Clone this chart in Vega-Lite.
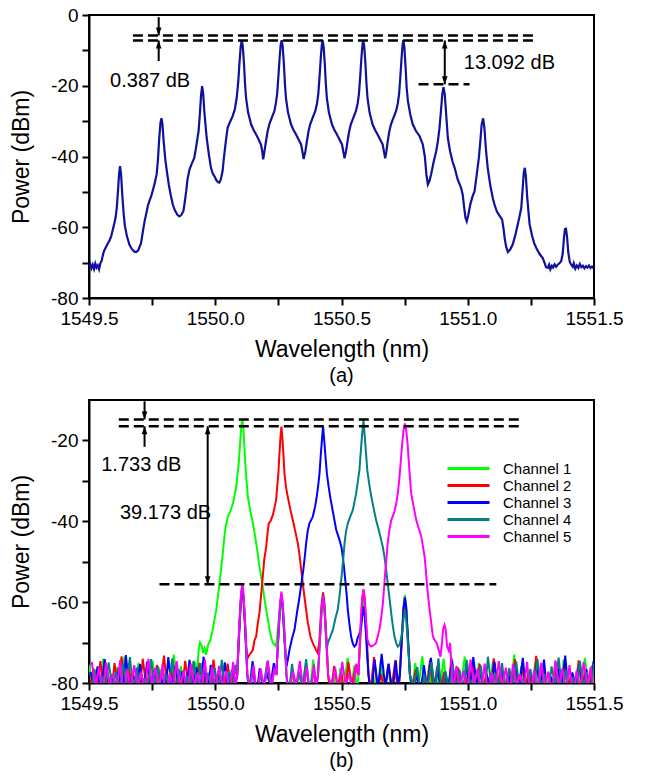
{
"$schema":"https://vega.github.io/schema/vega-lite/v6.json",
"background":"white",
"padding":{"left":9,"top":5,"right":5,"bottom":5},
"spacing":12,
"config":{
"font":"Liberation Sans",
"view":{"stroke":"black","strokeWidth":2},
"axis":{"domainColor":"black","domainWidth":2,"tickColor":"black","tickWidth":2,"tickSize":7,"labelFontSize":19,"labelColor":"black","titleFontSize":23,"titleFontWeight":"normal","titleColor":"black","grid":false,"labelPadding":4,"labelFlush":false,"labelOverlap":false},
"title":{"fontSize":20,"fontWeight":"normal","color":"black","orient":"bottom","anchor":"middle","offset":5}
},
"datasets":{
"specA":[
{"x":1549.500,"y":-71.0},{"x":1549.505,"y":-70.4},{"x":1549.510,"y":-71.6},{"x":1549.515,"y":-70.6},{"x":1549.520,"y":-71.8},{"x":1549.525,"y":-70.3},{"x":1549.530,"y":-71.4},{"x":1549.535,"y":-70.8},{"x":1549.540,"y":-71.9},{"x":1549.545,"y":-70.2},{"x":1549.550,"y":-69.5},{"x":1549.556,"y":-67.5},{"x":1549.561,"y":-66.5},{"x":1549.568,"y":-65.5},{"x":1549.575,"y":-64.5},{"x":1549.581,"y":-63.8},{"x":1549.588,"y":-62.5},{"x":1549.594,"y":-60.8},{"x":1549.600,"y":-59},{"x":1549.605,"y":-57.4},{"x":1549.610,"y":-54.5},{"x":1549.615,"y":-49.5},{"x":1549.619,"y":-45},{"x":1549.623,"y":-42.7},{"x":1549.627,"y":-45},{"x":1549.632,"y":-51},{"x":1549.637,"y":-56},{"x":1549.642,"y":-59.5},{"x":1549.650,"y":-62.5},{"x":1549.660,"y":-64.9},{"x":1549.670,"y":-66.2},{"x":1549.680,"y":-66.9},{"x":1549.687,"y":-67},{"x":1549.695,"y":-66.5},{"x":1549.706,"y":-64.5},{"x":1549.715,"y":-60.5},{"x":1549.721,"y":-58},{"x":1549.726,"y":-56.4},{"x":1549.733,"y":-54},{"x":1549.739,"y":-52.6},{"x":1549.746,"y":-51.3},{"x":1549.752,"y":-49.8},{"x":1549.760,"y":-47.6},{"x":1549.768,"y":-45},{"x":1549.773,"y":-41},{"x":1549.778,"y":-35},{"x":1549.783,"y":-30.5},{"x":1549.787,"y":-29.2},{"x":1549.791,"y":-31},{"x":1549.796,"y":-36},{"x":1549.803,"y":-41.3},{"x":1549.810,"y":-45},{"x":1549.816,"y":-47.9},{"x":1549.824,"y":-51},{"x":1549.832,"y":-53.6},{"x":1549.840,"y":-55.2},{"x":1549.850,"y":-56.5},{"x":1549.858,"y":-56.9},{"x":1549.866,"y":-56.5},{"x":1549.874,"y":-55.4},{"x":1549.880,"y":-52.5},{"x":1549.885,"y":-49.8},{"x":1549.890,"y":-46.5},{"x":1549.898,"y":-43.7},{"x":1549.907,"y":-42},{"x":1549.917,"y":-40.4},{"x":1549.925,"y":-37},{"x":1549.934,"y":-32.8},{"x":1549.939,"y":-28},{"x":1549.944,"y":-22.5},{"x":1549.948,"y":-20.1},{"x":1549.952,"y":-22},{"x":1549.957,"y":-27.5},{"x":1549.962,"y":-31.5},{"x":1549.966,"y":-34.7},{"x":1549.975,"y":-39.5},{"x":1549.983,"y":-43.2},{"x":1549.990,"y":-44.8},{"x":1549.997,"y":-45.6},{"x":1550.005,"y":-46.8},{"x":1550.012,"y":-47.3},{"x":1550.016,"y":-47.4},{"x":1550.022,"y":-46.5},{"x":1550.029,"y":-44.1},{"x":1550.034,"y":-40.5},{"x":1550.039,"y":-37.5},{"x":1550.044,"y":-34.5},{"x":1550.049,"y":-31.9},{"x":1550.058,"y":-30.3},{"x":1550.069,"y":-28.6},{"x":1550.078,"y":-26.5},{"x":1550.085,"y":-23.4},{"x":1550.091,"y":-19},{"x":1550.096,"y":-13.5},{"x":1550.101,"y":-8.8},{"x":1550.105,"y":-7.2},{"x":1550.109,"y":-8.8},{"x":1550.114,"y":-14},{"x":1550.118,"y":-19.5},{"x":1550.122,"y":-23.4},{"x":1550.130,"y":-27.5},{"x":1550.142,"y":-30.9},{"x":1550.152,"y":-32.5},{"x":1550.162,"y":-33.8},{"x":1550.172,"y":-35.2},{"x":1550.181,"y":-36.6},{"x":1550.186,"y":-38.5},{"x":1550.190,"y":-40.8},{"x":1550.195,"y":-38.5},{"x":1550.201,"y":-35.7},{"x":1550.207,"y":-33},{"x":1550.214,"y":-30.9},{"x":1550.224,"y":-29},{"x":1550.234,"y":-27.2},{"x":1550.240,"y":-25},{"x":1550.245,"y":-22.4},{"x":1550.250,"y":-17.5},{"x":1550.255,"y":-12},{"x":1550.259,"y":-8.5},{"x":1550.263,"y":-7.1},
{"x":1550.267,"y":-8.8},{"x":1550.272,"y":-14},{"x":1550.276,"y":-19.5},{"x":1550.280,"y":-23.4},{"x":1550.288,"y":-27.5},{"x":1550.300,"y":-30.9},{"x":1550.310,"y":-32.5},{"x":1550.320,"y":-33.8},{"x":1550.330,"y":-35.2},{"x":1550.340,"y":-36.6},{"x":1550.345,"y":-38.5},{"x":1550.350,"y":-40.7},{"x":1550.357,"y":-38.5},{"x":1550.363,"y":-35.7},{"x":1550.369,"y":-33},{"x":1550.376,"y":-30.9},{"x":1550.386,"y":-29},{"x":1550.396,"y":-27.2},{"x":1550.403,"y":-25},{"x":1550.408,"y":-22.4},{"x":1550.413,"y":-17.5},{"x":1550.418,"y":-12},{"x":1550.422,"y":-8.5},{"x":1550.425,"y":-7.1},
{"x":1550.429,"y":-8.8},{"x":1550.434,"y":-14},{"x":1550.438,"y":-19.5},{"x":1550.442,"y":-23.4},{"x":1550.450,"y":-27.5},{"x":1550.462,"y":-30.9},{"x":1550.472,"y":-32.5},{"x":1550.482,"y":-33.8},{"x":1550.492,"y":-35.2},{"x":1550.502,"y":-36.6},{"x":1550.507,"y":-38.5},{"x":1550.512,"y":-40.5},{"x":1550.518,"y":-38.5},{"x":1550.524,"y":-35.7},{"x":1550.530,"y":-33},{"x":1550.537,"y":-30.9},{"x":1550.547,"y":-29},{"x":1550.557,"y":-27.2},{"x":1550.564,"y":-25},{"x":1550.569,"y":-22.4},{"x":1550.574,"y":-17.5},{"x":1550.579,"y":-12},{"x":1550.583,"y":-8.5},{"x":1550.586,"y":-7.1},
{"x":1550.590,"y":-8.8},{"x":1550.595,"y":-14},{"x":1550.599,"y":-19.5},{"x":1550.603,"y":-23.4},{"x":1550.611,"y":-27.5},{"x":1550.623,"y":-30.9},{"x":1550.633,"y":-32.5},{"x":1550.643,"y":-33.8},{"x":1550.653,"y":-35.2},{"x":1550.663,"y":-36.6},{"x":1550.668,"y":-38.5},{"x":1550.673,"y":-40.5},{"x":1550.678,"y":-38.5},{"x":1550.683,"y":-35.7},{"x":1550.689,"y":-33},{"x":1550.696,"y":-30.9},{"x":1550.706,"y":-29},{"x":1550.716,"y":-27.2},{"x":1550.723,"y":-25},{"x":1550.728,"y":-22.4},{"x":1550.733,"y":-17.5},{"x":1550.738,"y":-12},{"x":1550.742,"y":-8.5},{"x":1550.745,"y":-7.1},
{"x":1550.749,"y":-9},{"x":1550.754,"y":-15},{"x":1550.758,"y":-20.5},{"x":1550.763,"y":-24.3},{"x":1550.772,"y":-28},{"x":1550.782,"y":-30.9},{"x":1550.795,"y":-32.8},{"x":1550.809,"y":-34.2},{"x":1550.822,"y":-36.6},{"x":1550.830,"y":-40},{"x":1550.836,"y":-45},{"x":1550.842,"y":-47.9},{"x":1550.848,"y":-47},{"x":1550.855,"y":-45},{"x":1550.865,"y":-41.5},{"x":1550.875,"y":-38.5},{"x":1550.882,"y":-35.5},{"x":1550.888,"y":-32},{"x":1550.894,"y":-27},{"x":1550.899,"y":-22.5},{"x":1550.904,"y":-20.4},{"x":1550.909,"y":-22.5},{"x":1550.914,"y":-27.5},{"x":1550.921,"y":-34.7},{"x":1550.930,"y":-38.5},{"x":1550.940,"y":-41.5},{"x":1550.948,"y":-43.2},{"x":1550.960,"y":-46.5},{"x":1550.974,"y":-48.9},{"x":1550.980,"y":-50.8},{"x":1550.986,"y":-54.5},{"x":1550.991,"y":-57.3},{"x":1550.996,"y":-58.3},{"x":1551.002,"y":-56.6},{"x":1551.010,"y":-53.6},{"x":1551.018,"y":-51.5},{"x":1551.027,"y":-49.8},{"x":1551.035,"y":-45.5},{"x":1551.044,"y":-40.4},{"x":1551.050,"y":-35.5},{"x":1551.055,"y":-31},{"x":1551.061,"y":-29.2},{"x":1551.066,"y":-32},{"x":1551.072,"y":-38},{"x":1551.079,"y":-43.2},{"x":1551.090,"y":-48.5},{"x":1551.100,"y":-52},{"x":1551.106,"y":-53.6},{"x":1551.115,"y":-55.5},{"x":1551.128,"y":-57},{"x":1551.136,"y":-57.8},{"x":1551.142,"y":-60.5},{"x":1551.146,"y":-63},{"x":1551.152,"y":-65.5},{"x":1551.159,"y":-67},{"x":1551.168,"y":-66.3},{"x":1551.178,"y":-64.9},{"x":1551.188,"y":-62.3},{"x":1551.198,"y":-59.2},{"x":1551.205,"y":-57},{"x":1551.212,"y":-54.5},{"x":1551.218,"y":-48.5},{"x":1551.222,"y":-44.5},{"x":1551.226,"y":-43.2},{"x":1551.230,"y":-45.5},{"x":1551.236,"y":-52},{"x":1551.245,"y":-59.2},{"x":1551.255,"y":-62.5},{"x":1551.263,"y":-64.5},{"x":1551.271,"y":-65.8},{"x":1551.284,"y":-67.5},{"x":1551.297,"y":-68.7},{"x":1551.305,"y":-70.2},{"x":1551.310,"y":-71.3},{"x":1551.317,"y":-71.5},{"x":1551.322,"y":-70.6},{"x":1551.327,"y":-71.9},{"x":1551.333,"y":-70.9},{"x":1551.338,"y":-71.4},{"x":1551.344,"y":-70.5},{"x":1551.350,"y":-71.2},{"x":1551.356,"y":-70.6},{"x":1551.363,"y":-70.2},{"x":1551.370,"y":-69.6},{"x":1551.376,"y":-67.5},{"x":1551.381,"y":-63},{"x":1551.385,"y":-60.5},{"x":1551.389,"y":-60.4},{"x":1551.393,"y":-62.5},{"x":1551.398,"y":-67},{"x":1551.404,"y":-69.8},{"x":1551.410,"y":-70.6},{"x":1551.416,"y":-71.2},{"x":1551.420,"y":-70.2},{"x":1551.426,"y":-71.7},{"x":1551.432,"y":-70.8},{"x":1551.438,"y":-71.5},{"x":1551.444,"y":-70.4},{"x":1551.450,"y":-71.3},{"x":1551.456,"y":-70.9},{"x":1551.462,"y":-71.6},{"x":1551.468,"y":-71.0},{"x":1551.474,"y":-71.4},{"x":1551.480,"y":-70.8},{"x":1551.486,"y":-71.5},{"x":1551.492,"y":-71.1},{"x":1551.498,"y":-71.6}
],
"dashA":[{"x":1549.674,"x2":1551.258,"y":-5.8},{"x":1549.674,"x2":1551.258,"y":-7.2},{"x":1550.805,"x2":1551.007,"y":-19.6}],
"shaftA":[{"x":1549.776,"y":-0.6,"y2":-5.8},{"x":1549.776,"y":-13,"y2":-7.2},{"x":1550.909,"y":-7.2,"y2":-19.6}],
"headA":[{"x":1549.776,"y":-5.8,"d":"down"},{"x":1549.776,"y":-7.2,"d":"up"},{"x":1550.909,"y":-7.2,"d":"up"},{"x":1550.909,"y":-19.6,"d":"down"}],
"textA":[{"x":1549.742,"y":-18.7,"t":"0.387 dB"},{"x":1551.165,"y":-13.5,"t":"13.092 dB"}],
"dashB":[{"x":1549.618,"x2":1551.205,"y":-14.8},{"x":1549.618,"x2":1551.205,"y":-16.5},{"x":1549.779,"x2":1551.113,"y":-55.6}],
"shaftB":[{"x":1549.72,"y":-10.3,"y2":-14.8},{"x":1549.72,"y":-21.6,"y2":-16.5},{"x":1549.97,"y":-16.5,"y2":-55.6}],
"headB":[{"x":1549.72,"y":-14.8,"d":"down"},{"x":1549.72,"y":-16.5,"d":"up"},{"x":1549.97,"y":-16.5,"d":"up"},{"x":1549.97,"y":-55.6,"d":"down"}],
"textB":[{"x":1549.707,"y":-26.1,"t":"1.733 dB"},{"x":1549.803,"y":-38,"t":"39.173 dB"}],
"specB":[
{"c":"Channel 1","x":1549.500,"y":-75.5},{"c":"Channel 1","x":1549.514,"y":-81},{"c":"Channel 1","x":1549.528,"y":-77},{"c":"Channel 1","x":1549.542,"y":-83},{"c":"Channel 1","x":1549.556,"y":-74},{"c":"Channel 1","x":1549.570,"y":-80.6},{"c":"Channel 1","x":1549.584,"y":-78.5},{"c":"Channel 1","x":1549.598,"y":-82.2},{"c":"Channel 1","x":1549.612,"y":-76},{"c":"Channel 1","x":1549.626,"y":-84},{"c":"Channel 1","x":1549.640,"y":-73.5},{"c":"Channel 1","x":1549.654,"y":-81.6},{"c":"Channel 1","x":1549.668,"y":-77.5},{"c":"Channel 1","x":1549.682,"y":-81},{"c":"Channel 1","x":1549.696,"y":-75},{"c":"Channel 1","x":1549.710,"y":-83},{"c":"Channel 1","x":1549.724,"y":-79},{"c":"Channel 1","x":1549.738,"y":-80.6},{"c":"Channel 1","x":1549.752,"y":-74.5},{"c":"Channel 1","x":1549.766,"y":-82.2},{"c":"Channel 1","x":1549.780,"y":-76.5},{"c":"Channel 1","x":1549.794,"y":-84},{"c":"Channel 1","x":1549.808,"y":-78},{"c":"Channel 1","x":1549.822,"y":-81.6},{"c":"Channel 1","x":1549.836,"y":-73},{"c":"Channel 1","x":1549.850,"y":-81},{"c":"Channel 1","x":1549.864,"y":-75.8},{"c":"Channel 1","x":1549.878,"y":-83},{"c":"Channel 1","x":1549.892,"y":-77.2},{"c":"Channel 1","x":1549.906,"y":-80.6},{"c":"Channel 1","x":1549.920,"y":-74.8},{"c":"Channel 1","x":1549.928,"y":-78},{"c":"Channel 1","x":1549.934,"y":-72},{"c":"Channel 1","x":1549.940,"y":-70},{"c":"Channel 1","x":1549.946,"y":-70.6},{"c":"Channel 1","x":1549.952,"y":-72.6},{"c":"Channel 1","x":1549.958,"y":-71.4},{"c":"Channel 1","x":1549.964,"y":-73},{"c":"Channel 1","x":1549.972,"y":-70.5},{"c":"Channel 1","x":1549.980,"y":-69.5},{"c":"Channel 1","x":1549.990,"y":-66.8},{"c":"Channel 1","x":1550.004,"y":-61.9},{"c":"Channel 1","x":1550.017,"y":-55.3},{"c":"Channel 1","x":1550.030,"y":-47.9},{"c":"Channel 1","x":1550.039,"y":-42.1},{"c":"Channel 1","x":1550.050,"y":-38.8},{"c":"Channel 1","x":1550.060,"y":-37.5},{"c":"Channel 1","x":1550.070,"y":-35.6},{"c":"Channel 1","x":1550.077,"y":-33.5},{"c":"Channel 1","x":1550.083,"y":-31.4},{"c":"Channel 1","x":1550.088,"y":-28.5},{"c":"Channel 1","x":1550.093,"y":-25.7},{"c":"Channel 1","x":1550.098,"y":-21},{"c":"Channel 1","x":1550.103,"y":-16.5},{"c":"Channel 1","x":1550.107,"y":-14.8},{"c":"Channel 1","x":1550.111,"y":-16.5},{"c":"Channel 1","x":1550.115,"y":-21},{"c":"Channel 1","x":1550.119,"y":-25.7},{"c":"Channel 1","x":1550.124,"y":-30},{"c":"Channel 1","x":1550.129,"y":-33.9},{"c":"Channel 1","x":1550.139,"y":-37.5},{"c":"Channel 1","x":1550.149,"y":-40.5},{"c":"Channel 1","x":1550.156,"y":-43},{"c":"Channel 1","x":1550.162,"y":-45.4},{"c":"Channel 1","x":1550.168,"y":-48},{"c":"Channel 1","x":1550.173,"y":-50.4},{"c":"Channel 1","x":1550.180,"y":-53},{"c":"Channel 1","x":1550.186,"y":-55.3},{"c":"Channel 1","x":1550.194,"y":-58.8},{"c":"Channel 1","x":1550.202,"y":-61.9},{"c":"Channel 1","x":1550.209,"y":-64.5},{"c":"Channel 1","x":1550.215,"y":-66.8},{"c":"Channel 1","x":1550.222,"y":-68.8},{"c":"Channel 1","x":1550.228,"y":-70.1},{"c":"Channel 1","x":1550.238,"y":-70.8},{"c":"Channel 1","x":1550.244,"y":-69.5},{"c":"Channel 1","x":1550.247,"y":-67},{"c":"Channel 1","x":1550.252,"y":-64},{"c":"Channel 1","x":1550.257,"y":-62},{"c":"Channel 1","x":1550.262,"y":-59.5},{"c":"Channel 1","x":1550.267,"y":-62},{"c":"Channel 1","x":1550.272,"y":-67.5},{"c":"Channel 1","x":1550.277,"y":-72},{"c":"Channel 1","x":1550.282,"y":-78},{"c":"Channel 1","x":1550.290,"y":-83},{"c":"Channel 1","x":1550.304,"y":-76.8},{"c":"Channel 1","x":1550.318,"y":-81.6},{"c":"Channel 1","x":1550.332,"y":-78.2},{"c":"Channel 1","x":1550.346,"y":-81},{"c":"Channel 1","x":1550.360,"y":-75.2},{"c":"Channel 1","x":1550.374,"y":-83},{"c":"Channel 1","x":1550.388,"y":-74.2},{"c":"Channel 1","x":1550.400,"y":-80.6},{"c":"Channel 1","x":1550.407,"y":-78},{"c":"Channel 1","x":1550.412,"y":-72},{"c":"Channel 1","x":1550.417,"y":-66.5},{"c":"Channel 1","x":1550.422,"y":-61},{"c":"Channel 1","x":1550.427,"y":-58.5},{"c":"Channel 1","x":1550.432,"y":-61},{"c":"Channel 1","x":1550.437,"y":-66.5},{"c":"Channel 1","x":1550.442,"y":-72},{"c":"Channel 1","x":1550.447,"y":-78},{"c":"Channel 1","x":1550.454,"y":-82.2},{"c":"Channel 1","x":1550.468,"y":-77.8},{"c":"Channel 1","x":1550.482,"y":-84},{"c":"Channel 1","x":1550.496,"y":-76.2},{"c":"Channel 1","x":1550.510,"y":-81.6},{"c":"Channel 1","x":1550.524,"y":-73.8},{"c":"Channel 1","x":1550.538,"y":-81},{"c":"Channel 1","x":1550.552,"y":-75.6},{"c":"Channel 1","x":1550.562,"y":-83},{"c":"Channel 1","x":1550.567,"y":-78},{"c":"Channel 1","x":1550.572,"y":-72.5},{"c":"Channel 1","x":1550.577,"y":-67},{"c":"Channel 1","x":1550.582,"y":-61.5},{"c":"Channel 1","x":1550.587,"y":-59},{"c":"Channel 1","x":1550.592,"y":-61.5},{"c":"Channel 1","x":1550.597,"y":-67},{"c":"Channel 1","x":1550.602,"y":-72.5},{"c":"Channel 1","x":1550.607,"y":-78},{"c":"Channel 1","x":1550.614,"y":-80.6},{"c":"Channel 1","x":1550.628,"y":-78.8},{"c":"Channel 1","x":1550.642,"y":-82.2},{"c":"Channel 1","x":1550.656,"y":-74.6},{"c":"Channel 1","x":1550.670,"y":-84},{"c":"Channel 1","x":1550.684,"y":-76.4},{"c":"Channel 1","x":1550.698,"y":-81.6},{"c":"Channel 1","x":1550.712,"y":-77.4},{"c":"Channel 1","x":1550.726,"y":-81},{"c":"Channel 1","x":1550.731,"y":-78},{"c":"Channel 1","x":1550.736,"y":-72},{"c":"Channel 1","x":1550.741,"y":-66},{"c":"Channel 1","x":1550.746,"y":-60.7},{"c":"Channel 1","x":1550.751,"y":-58.2},{"c":"Channel 1","x":1550.756,"y":-60.7},{"c":"Channel 1","x":1550.761,"y":-66},{"c":"Channel 1","x":1550.766,"y":-72},{"c":"Channel 1","x":1550.771,"y":-78},{"c":"Channel 1","x":1550.778,"y":-83},{"c":"Channel 1","x":1550.792,"y":-75.1},{"c":"Channel 1","x":1550.806,"y":-80.6},{"c":"Channel 1","x":1550.820,"y":-73.4},{"c":"Channel 1","x":1550.834,"y":-82.2},{"c":"Channel 1","x":1550.848,"y":-75.5},{"c":"Channel 1","x":1550.862,"y":-84},{"c":"Channel 1","x":1550.876,"y":-77},{"c":"Channel 1","x":1550.890,"y":-81.6},{"c":"Channel 1","x":1550.904,"y":-74},{"c":"Channel 1","x":1550.918,"y":-81},{"c":"Channel 1","x":1550.932,"y":-78.5},{"c":"Channel 1","x":1550.946,"y":-83},{"c":"Channel 1","x":1550.960,"y":-76},{"c":"Channel 1","x":1550.974,"y":-80.6},{"c":"Channel 1","x":1550.988,"y":-73.5},{"c":"Channel 1","x":1551.002,"y":-82.2},{"c":"Channel 1","x":1551.016,"y":-77.5},{"c":"Channel 1","x":1551.030,"y":-84},{"c":"Channel 1","x":1551.044,"y":-75},{"c":"Channel 1","x":1551.058,"y":-81.6},{"c":"Channel 1","x":1551.072,"y":-79},{"c":"Channel 1","x":1551.086,"y":-81},{"c":"Channel 1","x":1551.100,"y":-74.5},{"c":"Channel 1","x":1551.114,"y":-83},{"c":"Channel 1","x":1551.128,"y":-76.5},{"c":"Channel 1","x":1551.142,"y":-80.6},{"c":"Channel 1","x":1551.156,"y":-78},{"c":"Channel 1","x":1551.170,"y":-82.2},{"c":"Channel 1","x":1551.184,"y":-73},{"c":"Channel 1","x":1551.198,"y":-84},{"c":"Channel 1","x":1551.212,"y":-75.8},{"c":"Channel 1","x":1551.226,"y":-81.6},{"c":"Channel 1","x":1551.240,"y":-77.2},{"c":"Channel 1","x":1551.254,"y":-81},{"c":"Channel 1","x":1551.268,"y":-74.8},{"c":"Channel 1","x":1551.282,"y":-83},{"c":"Channel 1","x":1551.296,"y":-76.8},{"c":"Channel 1","x":1551.310,"y":-80.6},{"c":"Channel 1","x":1551.324,"y":-78.2},{"c":"Channel 1","x":1551.338,"y":-82.2},{"c":"Channel 1","x":1551.352,"y":-75.2},{"c":"Channel 1","x":1551.366,"y":-84},{"c":"Channel 1","x":1551.380,"y":-74.2},{"c":"Channel 1","x":1551.394,"y":-81.6},{"c":"Channel 1","x":1551.408,"y":-77.8},{"c":"Channel 1","x":1551.422,"y":-81},{"c":"Channel 1","x":1551.436,"y":-76.2},{"c":"Channel 1","x":1551.450,"y":-83},{"c":"Channel 1","x":1551.464,"y":-73.8},{"c":"Channel 1","x":1551.478,"y":-80.6},{"c":"Channel 1","x":1551.492,"y":-75.6},{"c":"Channel 1","x":1551.500,"y":-81},
{"c":"Channel 2","x":1549.503,"y":-81.6},{"c":"Channel 2","x":1549.517,"y":-76.4},{"c":"Channel 2","x":1549.531,"y":-83},{"c":"Channel 2","x":1549.545,"y":-74.6},{"c":"Channel 2","x":1549.559,"y":-81},{"c":"Channel 2","x":1549.573,"y":-77.4},{"c":"Channel 2","x":1549.587,"y":-84},{"c":"Channel 2","x":1549.601,"y":-75.1},{"c":"Channel 2","x":1549.615,"y":-80.6},{"c":"Channel 2","x":1549.629,"y":-73.4},{"c":"Channel 2","x":1549.643,"y":-82.2},{"c":"Channel 2","x":1549.657,"y":-76},{"c":"Channel 2","x":1549.671,"y":-81.6},{"c":"Channel 2","x":1549.685,"y":-78.5},{"c":"Channel 2","x":1549.699,"y":-83},{"c":"Channel 2","x":1549.713,"y":-74},{"c":"Channel 2","x":1549.727,"y":-81},{"c":"Channel 2","x":1549.741,"y":-77},{"c":"Channel 2","x":1549.755,"y":-84},{"c":"Channel 2","x":1549.769,"y":-75.5},{"c":"Channel 2","x":1549.783,"y":-80.6},{"c":"Channel 2","x":1549.797,"y":-73.2},{"c":"Channel 2","x":1549.811,"y":-82.2},{"c":"Channel 2","x":1549.825,"y":-76.5},{"c":"Channel 2","x":1549.839,"y":-81.6},{"c":"Channel 2","x":1549.853,"y":-78},{"c":"Channel 2","x":1549.867,"y":-83},{"c":"Channel 2","x":1549.881,"y":-74.5},{"c":"Channel 2","x":1549.895,"y":-81},{"c":"Channel 2","x":1549.909,"y":-76.8},{"c":"Channel 2","x":1549.923,"y":-84},{"c":"Channel 2","x":1549.937,"y":-75},{"c":"Channel 2","x":1549.951,"y":-80.6},{"c":"Channel 2","x":1549.965,"y":-77.5},{"c":"Channel 2","x":1549.979,"y":-82.2},{"c":"Channel 2","x":1549.993,"y":-74.2},{"c":"Channel 2","x":1550.007,"y":-81.6},{"c":"Channel 2","x":1550.021,"y":-78.2},{"c":"Channel 2","x":1550.035,"y":-83},{"c":"Channel 2","x":1550.049,"y":-75.2},{"c":"Channel 2","x":1550.063,"y":-81},{"c":"Channel 2","x":1550.077,"y":-76.8},{"c":"Channel 2","x":1550.087,"y":-78},{"c":"Channel 2","x":1550.092,"y":-71},{"c":"Channel 2","x":1550.097,"y":-65},{"c":"Channel 2","x":1550.102,"y":-59.5},{"c":"Channel 2","x":1550.107,"y":-57},{"c":"Channel 2","x":1550.112,"y":-59.5},{"c":"Channel 2","x":1550.117,"y":-65},{"c":"Channel 2","x":1550.122,"y":-71},{"c":"Channel 2","x":1550.127,"y":-74},{"c":"Channel 2","x":1550.135,"y":-73},{"c":"Channel 2","x":1550.142,"y":-72.5},{"c":"Channel 2","x":1550.149,"y":-71.8},{"c":"Channel 2","x":1550.155,"y":-69.5},{"c":"Channel 2","x":1550.162,"y":-68.5},{"c":"Channel 2","x":1550.168,"y":-65.5},{"c":"Channel 2","x":1550.175,"y":-62.7},{"c":"Channel 2","x":1550.186,"y":-55.3},{"c":"Channel 2","x":1550.194,"y":-49.5},{"c":"Channel 2","x":1550.202,"y":-46.2},{"c":"Channel 2","x":1550.207,"y":-43},{"c":"Channel 2","x":1550.212,"y":-40.5},{"c":"Channel 2","x":1550.220,"y":-39.8},{"c":"Channel 2","x":1550.228,"y":-38.5},{"c":"Channel 2","x":1550.235,"y":-36.5},{"c":"Channel 2","x":1550.241,"y":-34.7},{"c":"Channel 2","x":1550.246,"y":-31},{"c":"Channel 2","x":1550.250,"y":-28.1},{"c":"Channel 2","x":1550.254,"y":-23.5},{"c":"Channel 2","x":1550.258,"y":-19.5},{"c":"Channel 2","x":1550.262,"y":-16.6},{"c":"Channel 2","x":1550.266,"y":-19.5},{"c":"Channel 2","x":1550.270,"y":-23.5},{"c":"Channel 2","x":1550.274,"y":-28.1},{"c":"Channel 2","x":1550.280,"y":-31.5},{"c":"Channel 2","x":1550.287,"y":-33.9},{"c":"Channel 2","x":1550.297,"y":-37},{"c":"Channel 2","x":1550.307,"y":-39.7},{"c":"Channel 2","x":1550.317,"y":-42.5},{"c":"Channel 2","x":1550.327,"y":-45.4},{"c":"Channel 2","x":1550.334,"y":-48.5},{"c":"Channel 2","x":1550.340,"y":-51.9},{"c":"Channel 2","x":1550.347,"y":-55.5},{"c":"Channel 2","x":1550.353,"y":-58.6},{"c":"Channel 2","x":1550.360,"y":-62},{"c":"Channel 2","x":1550.367,"y":-65.2},{"c":"Channel 2","x":1550.377,"y":-68.5},{"c":"Channel 2","x":1550.386,"y":-70.1},{"c":"Channel 2","x":1550.399,"y":-71.8},{"c":"Channel 2","x":1550.405,"y":-72.5},{"c":"Channel 2","x":1550.412,"y":-70},{"c":"Channel 2","x":1550.417,"y":-64.5},{"c":"Channel 2","x":1550.422,"y":-60},{"c":"Channel 2","x":1550.427,"y":-57.6},{"c":"Channel 2","x":1550.432,"y":-60},{"c":"Channel 2","x":1550.437,"y":-65},{"c":"Channel 2","x":1550.442,"y":-71.5},{"c":"Channel 2","x":1550.447,"y":-78},{"c":"Channel 2","x":1550.457,"y":-83},{"c":"Channel 2","x":1550.471,"y":-75.8},{"c":"Channel 2","x":1550.485,"y":-81},{"c":"Channel 2","x":1550.499,"y":-77.2},{"c":"Channel 2","x":1550.513,"y":-84},{"c":"Channel 2","x":1550.527,"y":-74.8},{"c":"Channel 2","x":1550.541,"y":-80.6},{"c":"Channel 2","x":1550.555,"y":-76.2},{"c":"Channel 2","x":1550.567,"y":-78},{"c":"Channel 2","x":1550.572,"y":-71},{"c":"Channel 2","x":1550.577,"y":-65},{"c":"Channel 2","x":1550.582,"y":-59.5},{"c":"Channel 2","x":1550.587,"y":-57},{"c":"Channel 2","x":1550.592,"y":-59.5},{"c":"Channel 2","x":1550.597,"y":-65},{"c":"Channel 2","x":1550.602,"y":-71},{"c":"Channel 2","x":1550.607,"y":-78},{"c":"Channel 2","x":1550.615,"y":-82.2},{"c":"Channel 2","x":1550.629,"y":-73.6},{"c":"Channel 2","x":1550.643,"y":-81.6},{"c":"Channel 2","x":1550.657,"y":-77.8},{"c":"Channel 2","x":1550.671,"y":-83},{"c":"Channel 2","x":1550.685,"y":-75.4},{"c":"Channel 2","x":1550.699,"y":-81},{"c":"Channel 2","x":1550.713,"y":-74.4},{"c":"Channel 2","x":1550.724,"y":-84},{"c":"Channel 2","x":1550.731,"y":-78},{"c":"Channel 2","x":1550.736,"y":-72.5},{"c":"Channel 2","x":1550.741,"y":-67},{"c":"Channel 2","x":1550.746,"y":-61.5},{"c":"Channel 2","x":1550.751,"y":-59},{"c":"Channel 2","x":1550.756,"y":-61.5},{"c":"Channel 2","x":1550.761,"y":-67},{"c":"Channel 2","x":1550.766,"y":-72.5},{"c":"Channel 2","x":1550.771,"y":-78},{"c":"Channel 2","x":1550.781,"y":-80.6},{"c":"Channel 2","x":1550.795,"y":-76.6},{"c":"Channel 2","x":1550.809,"y":-82.2},{"c":"Channel 2","x":1550.823,"y":-78.4},{"c":"Channel 2","x":1550.837,"y":-81.6},{"c":"Channel 2","x":1550.851,"y":-74.3},{"c":"Channel 2","x":1550.865,"y":-83},{"c":"Channel 2","x":1550.879,"y":-75.9},{"c":"Channel 2","x":1550.893,"y":-81},{"c":"Channel 2","x":1550.907,"y":-77.3},{"c":"Channel 2","x":1550.921,"y":-84},{"c":"Channel 2","x":1550.935,"y":-73.7},{"c":"Channel 2","x":1550.949,"y":-80.6},{"c":"Channel 2","x":1550.963,"y":-76.3},{"c":"Channel 2","x":1550.977,"y":-82.2},{"c":"Channel 2","x":1550.991,"y":-78.6},{"c":"Channel 2","x":1551.005,"y":-81.6},{"c":"Channel 2","x":1551.019,"y":-74.7},{"c":"Channel 2","x":1551.033,"y":-83},{"c":"Channel 2","x":1551.047,"y":-75.3},{"c":"Channel 2","x":1551.061,"y":-81},{"c":"Channel 2","x":1551.075,"y":-77.6},{"c":"Channel 2","x":1551.089,"y":-84},{"c":"Channel 2","x":1551.103,"y":-73.9},{"c":"Channel 2","x":1551.117,"y":-80.6},{"c":"Channel 2","x":1551.131,"y":-76.7},{"c":"Channel 2","x":1551.145,"y":-82.2},{"c":"Channel 2","x":1551.159,"y":-78.1},{"c":"Channel 2","x":1551.173,"y":-81.6},{"c":"Channel 2","x":1551.187,"y":-74.1},{"c":"Channel 2","x":1551.201,"y":-83},{"c":"Channel 2","x":1551.215,"y":-75.7},{"c":"Channel 2","x":1551.229,"y":-81},{"c":"Channel 2","x":1551.243,"y":-77.1},{"c":"Channel 2","x":1551.257,"y":-84},{"c":"Channel 2","x":1551.271,"y":-73.3},{"c":"Channel 2","x":1551.285,"y":-80.6},{"c":"Channel 2","x":1551.299,"y":-76.1},{"c":"Channel 2","x":1551.313,"y":-82.2},{"c":"Channel 2","x":1551.327,"y":-78.7},{"c":"Channel 2","x":1551.341,"y":-81.6},{"c":"Channel 2","x":1551.355,"y":-74.9},{"c":"Channel 2","x":1551.369,"y":-83},{"c":"Channel 2","x":1551.383,"y":-75.4},{"c":"Channel 2","x":1551.397,"y":-81},{"c":"Channel 2","x":1551.411,"y":-77.9},{"c":"Channel 2","x":1551.425,"y":-84},{"c":"Channel 2","x":1551.439,"y":-74.4},{"c":"Channel 2","x":1551.453,"y":-80.6},{"c":"Channel 2","x":1551.467,"y":-76.9},{"c":"Channel 2","x":1551.481,"y":-82.2},{"c":"Channel 2","x":1551.495,"y":-75.8},
{"c":"Channel 3","x":1549.506,"y":-77.3},{"c":"Channel 3","x":1549.520,"y":-81},{"c":"Channel 3","x":1549.534,"y":-75.9},{"c":"Channel 3","x":1549.548,"y":-83},{"c":"Channel 3","x":1549.562,"y":-74.1},{"c":"Channel 3","x":1549.576,"y":-80.6},{"c":"Channel 3","x":1549.590,"y":-78.4},{"c":"Channel 3","x":1549.604,"y":-82.2},{"c":"Channel 3","x":1549.618,"y":-76.3},{"c":"Channel 3","x":1549.632,"y":-84},{"c":"Channel 3","x":1549.646,"y":-73.1},{"c":"Channel 3","x":1549.660,"y":-81.6},{"c":"Channel 3","x":1549.674,"y":-77.7},{"c":"Channel 3","x":1549.688,"y":-81},{"c":"Channel 3","x":1549.702,"y":-75.3},{"c":"Channel 3","x":1549.716,"y":-83},{"c":"Channel 3","x":1549.730,"y":-74.7},{"c":"Channel 3","x":1549.744,"y":-80.6},{"c":"Channel 3","x":1549.758,"y":-76.9},{"c":"Channel 3","x":1549.772,"y":-82.2},{"c":"Channel 3","x":1549.786,"y":-78.3},{"c":"Channel 3","x":1549.800,"y":-84},{"c":"Channel 3","x":1549.814,"y":-73.6},{"c":"Channel 3","x":1549.828,"y":-81.6},{"c":"Channel 3","x":1549.842,"y":-75.7},{"c":"Channel 3","x":1549.856,"y":-81},{"c":"Channel 3","x":1549.870,"y":-77.1},{"c":"Channel 3","x":1549.884,"y":-83},{"c":"Channel 3","x":1549.898,"y":-74.3},{"c":"Channel 3","x":1549.912,"y":-80.6},{"c":"Channel 3","x":1549.926,"y":-76.1},{"c":"Channel 3","x":1549.940,"y":-82.2},{"c":"Channel 3","x":1549.954,"y":-73.5},{"c":"Channel 3","x":1549.968,"y":-84},{"c":"Channel 3","x":1549.982,"y":-75.5},{"c":"Channel 3","x":1549.996,"y":-81.6},{"c":"Channel 3","x":1550.010,"y":-77.9},{"c":"Channel 3","x":1550.024,"y":-81},{"c":"Channel 3","x":1550.038,"y":-74.9},{"c":"Channel 3","x":1550.052,"y":-83},{"c":"Channel 3","x":1550.066,"y":-76.7},{"c":"Channel 3","x":1550.080,"y":-80.6},{"c":"Channel 3","x":1550.087,"y":-78},{"c":"Channel 3","x":1550.092,"y":-71},{"c":"Channel 3","x":1550.097,"y":-64.5},{"c":"Channel 3","x":1550.102,"y":-59},{"c":"Channel 3","x":1550.107,"y":-56.5},{"c":"Channel 3","x":1550.112,"y":-59},{"c":"Channel 3","x":1550.117,"y":-64.5},{"c":"Channel 3","x":1550.122,"y":-71},{"c":"Channel 3","x":1550.127,"y":-78},{"c":"Channel 3","x":1550.134,"y":-82.2},{"c":"Channel 3","x":1550.148,"y":-74.6},{"c":"Channel 3","x":1550.162,"y":-84},{"c":"Channel 3","x":1550.176,"y":-76.4},{"c":"Channel 3","x":1550.190,"y":-81.6},{"c":"Channel 3","x":1550.204,"y":-77.4},{"c":"Channel 3","x":1550.218,"y":-81},{"c":"Channel 3","x":1550.232,"y":-75.1},{"c":"Channel 3","x":1550.242,"y":-78},{"c":"Channel 3","x":1550.247,"y":-72},{"c":"Channel 3","x":1550.252,"y":-66.5},{"c":"Channel 3","x":1550.257,"y":-61},{"c":"Channel 3","x":1550.262,"y":-58.5},{"c":"Channel 3","x":1550.267,"y":-61},{"c":"Channel 3","x":1550.272,"y":-66.5},{"c":"Channel 3","x":1550.277,"y":-72},{"c":"Channel 3","x":1550.282,"y":-76},{"c":"Channel 3","x":1550.288,"y":-74},{"c":"Channel 3","x":1550.294,"y":-71.8},{"c":"Channel 3","x":1550.304,"y":-69},{"c":"Channel 3","x":1550.314,"y":-66.8},{"c":"Channel 3","x":1550.324,"y":-62.5},{"c":"Channel 3","x":1550.334,"y":-58.6},{"c":"Channel 3","x":1550.342,"y":-55},{"c":"Channel 3","x":1550.349,"y":-51.9},{"c":"Channel 3","x":1550.355,"y":-48.5},{"c":"Channel 3","x":1550.360,"y":-45.4},{"c":"Channel 3","x":1550.366,"y":-42.5},{"c":"Channel 3","x":1550.373,"y":-40.5},{"c":"Channel 3","x":1550.386,"y":-38.9},{"c":"Channel 3","x":1550.395,"y":-36.5},{"c":"Channel 3","x":1550.402,"y":-33.9},{"c":"Channel 3","x":1550.408,"y":-31},{"c":"Channel 3","x":1550.413,"y":-28.1},{"c":"Channel 3","x":1550.418,"y":-23.5},{"c":"Channel 3","x":1550.423,"y":-19.5},{"c":"Channel 3","x":1550.427,"y":-16.6},{"c":"Channel 3","x":1550.431,"y":-19.5},{"c":"Channel 3","x":1550.436,"y":-23.5},{"c":"Channel 3","x":1550.442,"y":-28.1},{"c":"Channel 3","x":1550.448,"y":-31},{"c":"Channel 3","x":1550.455,"y":-33.9},{"c":"Channel 3","x":1550.467,"y":-38},{"c":"Channel 3","x":1550.479,"y":-42.1},{"c":"Channel 3","x":1550.492,"y":-44.6},{"c":"Channel 3","x":1550.500,"y":-46.5},{"c":"Channel 3","x":1550.505,"y":-48.7},{"c":"Channel 3","x":1550.511,"y":-52},{"c":"Channel 3","x":1550.516,"y":-55.3},{"c":"Channel 3","x":1550.521,"y":-58.5},{"c":"Channel 3","x":1550.525,"y":-61.9},{"c":"Channel 3","x":1550.531,"y":-65.2},{"c":"Channel 3","x":1550.538,"y":-68.5},{"c":"Channel 3","x":1550.545,"y":-70.3},{"c":"Channel 3","x":1550.551,"y":-71},{"c":"Channel 3","x":1550.558,"y":-70.5},{"c":"Channel 3","x":1550.563,"y":-69},{"c":"Channel 3","x":1550.570,"y":-68},{"c":"Channel 3","x":1550.577,"y":-66.5},{"c":"Channel 3","x":1550.582,"y":-63.5},{"c":"Channel 3","x":1550.587,"y":-61.1},{"c":"Channel 3","x":1550.592,"y":-63.5},{"c":"Channel 3","x":1550.597,"y":-68},{"c":"Channel 3","x":1550.602,"y":-73.5},{"c":"Channel 3","x":1550.607,"y":-78},{"c":"Channel 3","x":1550.617,"y":-84},{"c":"Channel 3","x":1550.631,"y":-74.2},{"c":"Channel 3","x":1550.645,"y":-81.6},{"c":"Channel 3","x":1550.659,"y":-72.8},{"c":"Channel 3","x":1550.673,"y":-81},{"c":"Channel 3","x":1550.687,"y":-75.2},{"c":"Channel 3","x":1550.701,"y":-83},{"c":"Channel 3","x":1550.715,"y":-74.4},{"c":"Channel 3","x":1550.724,"y":-80.6},{"c":"Channel 3","x":1550.731,"y":-78},{"c":"Channel 3","x":1550.736,"y":-72},{"c":"Channel 3","x":1550.741,"y":-66.8},{"c":"Channel 3","x":1550.746,"y":-61.3},{"c":"Channel 3","x":1550.751,"y":-58.8},{"c":"Channel 3","x":1550.756,"y":-61.3},{"c":"Channel 3","x":1550.761,"y":-66.8},{"c":"Channel 3","x":1550.766,"y":-72},{"c":"Channel 3","x":1550.771,"y":-78},{"c":"Channel 3","x":1550.784,"y":-82.2},{"c":"Channel 3","x":1550.798,"y":-77.6},{"c":"Channel 3","x":1550.812,"y":-84},{"c":"Channel 3","x":1550.826,"y":-75.6},{"c":"Channel 3","x":1550.840,"y":-81.6},{"c":"Channel 3","x":1550.854,"y":-73.8},{"c":"Channel 3","x":1550.868,"y":-81},{"c":"Channel 3","x":1550.882,"y":-76.6},{"c":"Channel 3","x":1550.896,"y":-83},{"c":"Channel 3","x":1550.910,"y":-78.2},{"c":"Channel 3","x":1550.924,"y":-80.6},{"c":"Channel 3","x":1550.938,"y":-74.4},{"c":"Channel 3","x":1550.952,"y":-82.2},{"c":"Channel 3","x":1550.966,"y":-77},{"c":"Channel 3","x":1550.980,"y":-84},{"c":"Channel 3","x":1550.994,"y":-75.2},{"c":"Channel 3","x":1551.008,"y":-81.6},{"c":"Channel 3","x":1551.022,"y":-73.6},{"c":"Channel 3","x":1551.036,"y":-81},{"c":"Channel 3","x":1551.050,"y":-76.8},{"c":"Channel 3","x":1551.064,"y":-83},{"c":"Channel 3","x":1551.078,"y":-78.6},{"c":"Channel 3","x":1551.092,"y":-80.6},{"c":"Channel 3","x":1551.106,"y":-74.8},{"c":"Channel 3","x":1551.120,"y":-82.2},{"c":"Channel 3","x":1551.134,"y":-76.2},{"c":"Channel 3","x":1551.148,"y":-84},{"c":"Channel 3","x":1551.162,"y":-77.8},{"c":"Channel 3","x":1551.176,"y":-81.6},{"c":"Channel 3","x":1551.190,"y":-75.6},{"c":"Channel 3","x":1551.204,"y":-81},{"c":"Channel 3","x":1551.218,"y":-73.8},{"c":"Channel 3","x":1551.232,"y":-83},{"c":"Channel 3","x":1551.246,"y":-77.2},{"c":"Channel 3","x":1551.260,"y":-80.6},{"c":"Channel 3","x":1551.274,"y":-75},{"c":"Channel 3","x":1551.288,"y":-82.2},{"c":"Channel 3","x":1551.302,"y":-74.2},{"c":"Channel 3","x":1551.316,"y":-84},{"c":"Channel 3","x":1551.330,"y":-78.4},{"c":"Channel 3","x":1551.344,"y":-81.6},{"c":"Channel 3","x":1551.358,"y":-76.4},{"c":"Channel 3","x":1551.372,"y":-81},{"c":"Channel 3","x":1551.386,"y":-73.2},{"c":"Channel 3","x":1551.400,"y":-83},{"c":"Channel 3","x":1551.414,"y":-77.4},{"c":"Channel 3","x":1551.428,"y":-80.6},{"c":"Channel 3","x":1551.442,"y":-75.4},{"c":"Channel 3","x":1551.456,"y":-82.2},{"c":"Channel 3","x":1551.470,"y":-76.6},{"c":"Channel 3","x":1551.484,"y":-84},{"c":"Channel 3","x":1551.498,"y":-74.6},
{"c":"Channel 4","x":1549.508,"y":-82.2},{"c":"Channel 4","x":1549.522,"y":-76.6},{"c":"Channel 4","x":1549.536,"y":-84},{"c":"Channel 4","x":1549.550,"y":-78.2},{"c":"Channel 4","x":1549.564,"y":-81.6},{"c":"Channel 4","x":1549.578,"y":-74.9},{"c":"Channel 4","x":1549.592,"y":-81},{"c":"Channel 4","x":1549.606,"y":-77.3},{"c":"Channel 4","x":1549.620,"y":-83},{"c":"Channel 4","x":1549.634,"y":-75.3},{"c":"Channel 4","x":1549.648,"y":-80.6},{"c":"Channel 4","x":1549.662,"y":-73.6},{"c":"Channel 4","x":1549.676,"y":-82.2},{"c":"Channel 4","x":1549.690,"y":-76.2},{"c":"Channel 4","x":1549.704,"y":-84},{"c":"Channel 4","x":1549.718,"y":-78.8},{"c":"Channel 4","x":1549.732,"y":-81.6},{"c":"Channel 4","x":1549.746,"y":-74.1},{"c":"Channel 4","x":1549.760,"y":-81},{"c":"Channel 4","x":1549.774,"y":-75.9},{"c":"Channel 4","x":1549.788,"y":-83},{"c":"Channel 4","x":1549.802,"y":-77.7},{"c":"Channel 4","x":1549.816,"y":-80.6},{"c":"Channel 4","x":1549.830,"y":-73.9},{"c":"Channel 4","x":1549.844,"y":-82.2},{"c":"Channel 4","x":1549.858,"y":-76.7},{"c":"Channel 4","x":1549.872,"y":-84},{"c":"Channel 4","x":1549.886,"y":-78.1},{"c":"Channel 4","x":1549.900,"y":-81.6},{"c":"Channel 4","x":1549.914,"y":-74.5},{"c":"Channel 4","x":1549.928,"y":-81},{"c":"Channel 4","x":1549.942,"y":-75.1},{"c":"Channel 4","x":1549.956,"y":-83},{"c":"Channel 4","x":1549.970,"y":-77.5},{"c":"Channel 4","x":1549.984,"y":-80.6},{"c":"Channel 4","x":1549.998,"y":-76.3},{"c":"Channel 4","x":1550.012,"y":-82.2},{"c":"Channel 4","x":1550.026,"y":-74.3},{"c":"Channel 4","x":1550.040,"y":-84},{"c":"Channel 4","x":1550.054,"y":-77.1},{"c":"Channel 4","x":1550.068,"y":-81.6},{"c":"Channel 4","x":1550.080,"y":-75.5},{"c":"Channel 4","x":1550.087,"y":-78},{"c":"Channel 4","x":1550.092,"y":-70.5},{"c":"Channel 4","x":1550.097,"y":-64},{"c":"Channel 4","x":1550.102,"y":-58.5},{"c":"Channel 4","x":1550.107,"y":-56},{"c":"Channel 4","x":1550.112,"y":-58.5},{"c":"Channel 4","x":1550.117,"y":-64},{"c":"Channel 4","x":1550.122,"y":-70.5},{"c":"Channel 4","x":1550.127,"y":-78},{"c":"Channel 4","x":1550.136,"y":-81},{"c":"Channel 4","x":1550.150,"y":-75.8},{"c":"Channel 4","x":1550.164,"y":-83},{"c":"Channel 4","x":1550.178,"y":-77.9},{"c":"Channel 4","x":1550.192,"y":-80.6},{"c":"Channel 4","x":1550.206,"y":-74.7},{"c":"Channel 4","x":1550.220,"y":-82.2},{"c":"Channel 4","x":1550.234,"y":-76.5},{"c":"Channel 4","x":1550.242,"y":-78},{"c":"Channel 4","x":1550.247,"y":-71.5},{"c":"Channel 4","x":1550.252,"y":-66},{"c":"Channel 4","x":1550.257,"y":-60.5},{"c":"Channel 4","x":1550.262,"y":-58},{"c":"Channel 4","x":1550.267,"y":-60.5},{"c":"Channel 4","x":1550.272,"y":-66},{"c":"Channel 4","x":1550.277,"y":-71.5},{"c":"Channel 4","x":1550.282,"y":-78},{"c":"Channel 4","x":1550.290,"y":-84},{"c":"Channel 4","x":1550.304,"y":-75.3},{"c":"Channel 4","x":1550.318,"y":-81.6},{"c":"Channel 4","x":1550.332,"y":-77.3},{"c":"Channel 4","x":1550.346,"y":-81},{"c":"Channel 4","x":1550.360,"y":-74.1},{"c":"Channel 4","x":1550.374,"y":-83},{"c":"Channel 4","x":1550.388,"y":-76.9},{"c":"Channel 4","x":1550.400,"y":-80.6},{"c":"Channel 4","x":1550.407,"y":-78},{"c":"Channel 4","x":1550.412,"y":-72},{"c":"Channel 4","x":1550.417,"y":-66.5},{"c":"Channel 4","x":1550.422,"y":-61},{"c":"Channel 4","x":1550.427,"y":-58.2},{"c":"Channel 4","x":1550.432,"y":-61},{"c":"Channel 4","x":1550.437,"y":-66.5},{"c":"Channel 4","x":1550.442,"y":-71.5},{"c":"Channel 4","x":1550.446,"y":-70.1},{"c":"Channel 4","x":1550.456,"y":-68.5},{"c":"Channel 4","x":1550.466,"y":-66.8},{"c":"Channel 4","x":1550.476,"y":-64},{"c":"Channel 4","x":1550.485,"y":-61.9},{"c":"Channel 4","x":1550.492,"y":-58.6},{"c":"Channel 4","x":1550.498,"y":-55},{"c":"Channel 4","x":1550.503,"y":-51.9},{"c":"Channel 4","x":1550.508,"y":-48.5},{"c":"Channel 4","x":1550.512,"y":-45.4},{"c":"Channel 4","x":1550.518,"y":-42.5},{"c":"Channel 4","x":1550.525,"y":-40.5},{"c":"Channel 4","x":1550.535,"y":-38.8},{"c":"Channel 4","x":1550.545,"y":-37.2},{"c":"Channel 4","x":1550.552,"y":-35},{"c":"Channel 4","x":1550.558,"y":-33.1},{"c":"Channel 4","x":1550.565,"y":-30},{"c":"Channel 4","x":1550.571,"y":-27.3},{"c":"Channel 4","x":1550.576,"y":-23},{"c":"Channel 4","x":1550.581,"y":-19},{"c":"Channel 4","x":1550.587,"y":-15},{"c":"Channel 4","x":1550.592,"y":-19},{"c":"Channel 4","x":1550.597,"y":-23},{"c":"Channel 4","x":1550.602,"y":-27.3},{"c":"Channel 4","x":1550.609,"y":-30.5},{"c":"Channel 4","x":1550.618,"y":-33.9},{"c":"Channel 4","x":1550.628,"y":-37},{"c":"Channel 4","x":1550.637,"y":-39.7},{"c":"Channel 4","x":1550.647,"y":-42},{"c":"Channel 4","x":1550.657,"y":-44.6},{"c":"Channel 4","x":1550.664,"y":-46.5},{"c":"Channel 4","x":1550.670,"y":-48.7},{"c":"Channel 4","x":1550.677,"y":-52},{"c":"Channel 4","x":1550.683,"y":-55.3},{"c":"Channel 4","x":1550.690,"y":-59},{"c":"Channel 4","x":1550.697,"y":-62.7},{"c":"Channel 4","x":1550.703,"y":-65.8},{"c":"Channel 4","x":1550.710,"y":-68.5},{"c":"Channel 4","x":1550.717,"y":-70.2},{"c":"Channel 4","x":1550.723,"y":-71},{"c":"Channel 4","x":1550.730,"y":-70.5},{"c":"Channel 4","x":1550.736,"y":-69},{"c":"Channel 4","x":1550.741,"y":-67},{"c":"Channel 4","x":1550.746,"y":-64},{"c":"Channel 4","x":1550.751,"y":-62},{"c":"Channel 4","x":1550.756,"y":-64},{"c":"Channel 4","x":1550.761,"y":-68.5},{"c":"Channel 4","x":1550.766,"y":-73},{"c":"Channel 4","x":1550.771,"y":-78},{"c":"Channel 4","x":1550.786,"y":-81},{"c":"Channel 4","x":1550.800,"y":-76.1},{"c":"Channel 4","x":1550.814,"y":-83},{"c":"Channel 4","x":1550.828,"y":-78.3},{"c":"Channel 4","x":1550.842,"y":-80.6},{"c":"Channel 4","x":1550.856,"y":-74.9},{"c":"Channel 4","x":1550.870,"y":-82.2},{"c":"Channel 4","x":1550.884,"y":-73.9},{"c":"Channel 4","x":1550.898,"y":-84},{"c":"Channel 4","x":1550.912,"y":-77.1},{"c":"Channel 4","x":1550.926,"y":-81.6},{"c":"Channel 4","x":1550.940,"y":-75.5},{"c":"Channel 4","x":1550.954,"y":-81},{"c":"Channel 4","x":1550.968,"y":-76.9},{"c":"Channel 4","x":1550.982,"y":-83},{"c":"Channel 4","x":1550.996,"y":-74.3},{"c":"Channel 4","x":1551.010,"y":-80.6},{"c":"Channel 4","x":1551.024,"y":-78.1},{"c":"Channel 4","x":1551.038,"y":-82.2},{"c":"Channel 4","x":1551.052,"y":-75.7},{"c":"Channel 4","x":1551.066,"y":-84},{"c":"Channel 4","x":1551.080,"y":-73.5},{"c":"Channel 4","x":1551.094,"y":-81.6},{"c":"Channel 4","x":1551.108,"y":-77.5},{"c":"Channel 4","x":1551.122,"y":-81},{"c":"Channel 4","x":1551.136,"y":-75.1},{"c":"Channel 4","x":1551.150,"y":-83},{"c":"Channel 4","x":1551.164,"y":-76.3},{"c":"Channel 4","x":1551.178,"y":-80.6},{"c":"Channel 4","x":1551.192,"y":-74.7},{"c":"Channel 4","x":1551.206,"y":-82.2},{"c":"Channel 4","x":1551.220,"y":-78.9},{"c":"Channel 4","x":1551.234,"y":-84},{"c":"Channel 4","x":1551.248,"y":-76.5},{"c":"Channel 4","x":1551.262,"y":-81.6},{"c":"Channel 4","x":1551.276,"y":-74.1},{"c":"Channel 4","x":1551.290,"y":-81},{"c":"Channel 4","x":1551.304,"y":-77.7},{"c":"Channel 4","x":1551.318,"y":-83},{"c":"Channel 4","x":1551.332,"y":-75.9},{"c":"Channel 4","x":1551.346,"y":-80.6},{"c":"Channel 4","x":1551.360,"y":-73.7},{"c":"Channel 4","x":1551.374,"y":-82.2},{"c":"Channel 4","x":1551.388,"y":-76.7},{"c":"Channel 4","x":1551.402,"y":-84},{"c":"Channel 4","x":1551.416,"y":-78.5},{"c":"Channel 4","x":1551.430,"y":-81.6},{"c":"Channel 4","x":1551.444,"y":-74.5},{"c":"Channel 4","x":1551.458,"y":-81},{"c":"Channel 4","x":1551.472,"y":-77.3},{"c":"Channel 4","x":1551.486,"y":-83},{"c":"Channel 4","x":1551.500,"y":-75.3},
{"c":"Channel 5","x":1549.511,"y":-74.8},{"c":"Channel 5","x":1549.525,"y":-81},{"c":"Channel 5","x":1549.539,"y":-76.2},{"c":"Channel 5","x":1549.553,"y":-83},{"c":"Channel 5","x":1549.567,"y":-75},{"c":"Channel 5","x":1549.581,"y":-80.6},{"c":"Channel 5","x":1549.595,"y":-77.8},{"c":"Channel 5","x":1549.609,"y":-82.2},{"c":"Channel 5","x":1549.623,"y":-74.4},{"c":"Channel 5","x":1549.637,"y":-84},{"c":"Channel 5","x":1549.651,"y":-76.6},{"c":"Channel 5","x":1549.665,"y":-81.6},{"c":"Channel 5","x":1549.679,"y":-75.6},{"c":"Channel 5","x":1549.693,"y":-81},{"c":"Channel 5","x":1549.707,"y":-77.2},{"c":"Channel 5","x":1549.721,"y":-83},{"c":"Channel 5","x":1549.735,"y":-74},{"c":"Channel 5","x":1549.749,"y":-80.6},{"c":"Channel 5","x":1549.763,"y":-76.2},{"c":"Channel 5","x":1549.777,"y":-82.2},{"c":"Channel 5","x":1549.791,"y":-75.4},{"c":"Channel 5","x":1549.805,"y":-84},{"c":"Channel 5","x":1549.819,"y":-77.6},{"c":"Channel 5","x":1549.833,"y":-81.6},{"c":"Channel 5","x":1549.847,"y":-74.6},{"c":"Channel 5","x":1549.861,"y":-81},{"c":"Channel 5","x":1549.875,"y":-76.8},{"c":"Channel 5","x":1549.889,"y":-83},{"c":"Channel 5","x":1549.903,"y":-75.2},{"c":"Channel 5","x":1549.917,"y":-80.6},{"c":"Channel 5","x":1549.931,"y":-77.4},{"c":"Channel 5","x":1549.945,"y":-82.2},{"c":"Channel 5","x":1549.959,"y":-74.2},{"c":"Channel 5","x":1549.973,"y":-84},{"c":"Channel 5","x":1549.987,"y":-76},{"c":"Channel 5","x":1550.001,"y":-81.6},{"c":"Channel 5","x":1550.015,"y":-75.8},{"c":"Channel 5","x":1550.029,"y":-81},{"c":"Channel 5","x":1550.043,"y":-77},{"c":"Channel 5","x":1550.057,"y":-83},{"c":"Channel 5","x":1550.071,"y":-74.8},{"c":"Channel 5","x":1550.080,"y":-80.6},{"c":"Channel 5","x":1550.087,"y":-78},{"c":"Channel 5","x":1550.092,"y":-70},{"c":"Channel 5","x":1550.097,"y":-63.5},{"c":"Channel 5","x":1550.102,"y":-58},{"c":"Channel 5","x":1550.107,"y":-55.5},{"c":"Channel 5","x":1550.112,"y":-58},{"c":"Channel 5","x":1550.117,"y":-63.5},{"c":"Channel 5","x":1550.122,"y":-70},{"c":"Channel 5","x":1550.127,"y":-78},{"c":"Channel 5","x":1550.138,"y":-82.2},{"c":"Channel 5","x":1550.152,"y":-75.6},{"c":"Channel 5","x":1550.166,"y":-84},{"c":"Channel 5","x":1550.180,"y":-76.4},{"c":"Channel 5","x":1550.194,"y":-81.6},{"c":"Channel 5","x":1550.208,"y":-74.4},{"c":"Channel 5","x":1550.222,"y":-81},{"c":"Channel 5","x":1550.234,"y":-76.6},{"c":"Channel 5","x":1550.242,"y":-78},{"c":"Channel 5","x":1550.247,"y":-71},{"c":"Channel 5","x":1550.252,"y":-65},{"c":"Channel 5","x":1550.257,"y":-60},{"c":"Channel 5","x":1550.262,"y":-57.4},{"c":"Channel 5","x":1550.267,"y":-60},{"c":"Channel 5","x":1550.272,"y":-65},{"c":"Channel 5","x":1550.277,"y":-71},{"c":"Channel 5","x":1550.282,"y":-78},{"c":"Channel 5","x":1550.293,"y":-83},{"c":"Channel 5","x":1550.307,"y":-77},{"c":"Channel 5","x":1550.321,"y":-80.6},{"c":"Channel 5","x":1550.335,"y":-74.6},{"c":"Channel 5","x":1550.349,"y":-82.2},{"c":"Channel 5","x":1550.363,"y":-76},{"c":"Channel 5","x":1550.377,"y":-84},{"c":"Channel 5","x":1550.391,"y":-75.4},{"c":"Channel 5","x":1550.400,"y":-81.6},{"c":"Channel 5","x":1550.407,"y":-78},{"c":"Channel 5","x":1550.412,"y":-72},{"c":"Channel 5","x":1550.417,"y":-66.5},{"c":"Channel 5","x":1550.422,"y":-61},{"c":"Channel 5","x":1550.427,"y":-58.4},{"c":"Channel 5","x":1550.432,"y":-61},{"c":"Channel 5","x":1550.437,"y":-66.5},{"c":"Channel 5","x":1550.442,"y":-72},{"c":"Channel 5","x":1550.447,"y":-78},{"c":"Channel 5","x":1550.461,"y":-81},{"c":"Channel 5","x":1550.475,"y":-76.2},{"c":"Channel 5","x":1550.489,"y":-83},{"c":"Channel 5","x":1550.503,"y":-74.8},{"c":"Channel 5","x":1550.517,"y":-80.6},{"c":"Channel 5","x":1550.531,"y":-77.6},{"c":"Channel 5","x":1550.545,"y":-82.2},{"c":"Channel 5","x":1550.559,"y":-75.2},{"c":"Channel 5","x":1550.567,"y":-78},{"c":"Channel 5","x":1550.572,"y":-70.5},{"c":"Channel 5","x":1550.577,"y":-64},{"c":"Channel 5","x":1550.582,"y":-59},{"c":"Channel 5","x":1550.587,"y":-56.8},{"c":"Channel 5","x":1550.592,"y":-59},{"c":"Channel 5","x":1550.597,"y":-64},{"c":"Channel 5","x":1550.602,"y":-69},{"c":"Channel 5","x":1550.609,"y":-70.5},{"c":"Channel 5","x":1550.618,"y":-71},{"c":"Channel 5","x":1550.628,"y":-70.6},{"c":"Channel 5","x":1550.637,"y":-70.1},{"c":"Channel 5","x":1550.650,"y":-66.8},{"c":"Channel 5","x":1550.657,"y":-64},{"c":"Channel 5","x":1550.664,"y":-60.2},{"c":"Channel 5","x":1550.669,"y":-56},{"c":"Channel 5","x":1550.674,"y":-51.9},{"c":"Channel 5","x":1550.679,"y":-48.5},{"c":"Channel 5","x":1550.683,"y":-45.4},{"c":"Channel 5","x":1550.690,"y":-42},{"c":"Channel 5","x":1550.697,"y":-39.7},{"c":"Channel 5","x":1550.710,"y":-37.6},{"c":"Channel 5","x":1550.717,"y":-35.5},{"c":"Channel 5","x":1550.723,"y":-33.1},{"c":"Channel 5","x":1550.729,"y":-29.5},{"c":"Channel 5","x":1550.734,"y":-25.7},{"c":"Channel 5","x":1550.740,"y":-21},{"c":"Channel 5","x":1550.746,"y":-17.3},{"c":"Channel 5","x":1550.751,"y":-15.8},{"c":"Channel 5","x":1550.756,"y":-17.3},{"c":"Channel 5","x":1550.762,"y":-21},{"c":"Channel 5","x":1550.767,"y":-25.7},{"c":"Channel 5","x":1550.772,"y":-30},{"c":"Channel 5","x":1550.776,"y":-33.1},{"c":"Channel 5","x":1550.786,"y":-36.5},{"c":"Channel 5","x":1550.796,"y":-39.7},{"c":"Channel 5","x":1550.806,"y":-41.8},{"c":"Channel 5","x":1550.816,"y":-43.8},{"c":"Channel 5","x":1550.822,"y":-46},{"c":"Channel 5","x":1550.829,"y":-48.7},{"c":"Channel 5","x":1550.834,"y":-52},{"c":"Channel 5","x":1550.838,"y":-55.3},{"c":"Channel 5","x":1550.843,"y":-58.5},{"c":"Channel 5","x":1550.849,"y":-61.9},{"c":"Channel 5","x":1550.856,"y":-65.5},{"c":"Channel 5","x":1550.862,"y":-68.5},{"c":"Channel 5","x":1550.870,"y":-69.5},{"c":"Channel 5","x":1550.877,"y":-70.1},{"c":"Channel 5","x":1550.885,"y":-71.8},{"c":"Channel 5","x":1550.892,"y":-73.5},{"c":"Channel 5","x":1550.898,"y":-70},{"c":"Channel 5","x":1550.903,"y":-66.5},{"c":"Channel 5","x":1550.908,"y":-65.6},{"c":"Channel 5","x":1550.913,"y":-67},{"c":"Channel 5","x":1550.918,"y":-71},{"c":"Channel 5","x":1550.925,"y":-72},{"c":"Channel 5","x":1550.930,"y":-70.1},{"c":"Channel 5","x":1550.936,"y":-76},{"c":"Channel 5","x":1550.942,"y":-82.2},{"c":"Channel 5","x":1550.955,"y":-75.8},{"c":"Channel 5","x":1550.969,"y":-81},{"c":"Channel 5","x":1550.983,"y":-77},{"c":"Channel 5","x":1550.997,"y":-83},{"c":"Channel 5","x":1551.011,"y":-74.2},{"c":"Channel 5","x":1551.025,"y":-80.6},{"c":"Channel 5","x":1551.039,"y":-76.4},{"c":"Channel 5","x":1551.053,"y":-82.2},{"c":"Channel 5","x":1551.067,"y":-75.2},{"c":"Channel 5","x":1551.081,"y":-84},{"c":"Channel 5","x":1551.095,"y":-77.4},{"c":"Channel 5","x":1551.109,"y":-81.6},{"c":"Channel 5","x":1551.123,"y":-74.6},{"c":"Channel 5","x":1551.137,"y":-81},{"c":"Channel 5","x":1551.151,"y":-76.2},{"c":"Channel 5","x":1551.165,"y":-83},{"c":"Channel 5","x":1551.179,"y":-75.4},{"c":"Channel 5","x":1551.193,"y":-80.6},{"c":"Channel 5","x":1551.207,"y":-77.8},{"c":"Channel 5","x":1551.221,"y":-82.2},{"c":"Channel 5","x":1551.235,"y":-74.8},{"c":"Channel 5","x":1551.249,"y":-84},{"c":"Channel 5","x":1551.263,"y":-76.8},{"c":"Channel 5","x":1551.277,"y":-81.6},{"c":"Channel 5","x":1551.291,"y":-75},{"c":"Channel 5","x":1551.305,"y":-81},{"c":"Channel 5","x":1551.319,"y":-77.2},{"c":"Channel 5","x":1551.333,"y":-83},{"c":"Channel 5","x":1551.347,"y":-74.4},{"c":"Channel 5","x":1551.361,"y":-80.6},{"c":"Channel 5","x":1551.375,"y":-76.4},{"c":"Channel 5","x":1551.389,"y":-82.2},{"c":"Channel 5","x":1551.403,"y":-75.6},{"c":"Channel 5","x":1551.417,"y":-84},{"c":"Channel 5","x":1551.431,"y":-77},{"c":"Channel 5","x":1551.445,"y":-81.6},{"c":"Channel 5","x":1551.459,"y":-74.8},{"c":"Channel 5","x":1551.473,"y":-81},{"c":"Channel 5","x":1551.487,"y":-76},{"c":"Channel 5","x":1551.500,"y":-83}
]
},
"vconcat":[
{
"width":505,"height":283,
"title":{"text":"(a)"},
"encoding":{
"x":{"field":"x","type":"quantitative","scale":{"domain":[1549.5,1551.5],"nice":false,"zero":false},
"axis":{"title":"Wavelength (nm)","titlePadding":10,"values":[1549.5,1549.75,1550,1550.25,1550.5,1550.75,1551,1551.25,1551.5],"labelExpr":"datum.value % 0.5 == 0 ? format(datum.value, '.1f') : ''"}},
"y":{"field":"y","type":"quantitative","scale":{"domain":[-80,0],"nice":false,"zero":false},
"axis":{"title":"Power (dBm)","titlePadding":17,"values":[-80,-70,-60,-50,-40,-30,-20,-10,0],"labelExpr":"datum.value % 20 == 0 ? toString(datum.value) : ''"}}
},
"layer":[
{"data":{"name":"specA"},"mark":{"type":"line","color":"#11119c","strokeWidth":2.2,"clip":true}},
{"data":{"name":"dashA"},"mark":{"type":"rule","color":"black","strokeWidth":2.5,"strokeDash":[10,5]},"encoding":{"x2":{"field":"x2"}}},
{"data":{"name":"shaftA"},"mark":{"type":"rule","color":"black","strokeWidth":2},"encoding":{"y2":{"field":"y2"}}},
{"data":{"name":"headA"},"mark":{"type":"point","filled":true,"color":"black","opacity":1,"size":64},"encoding":{"shape":{"field":"d","type":"nominal","scale":{"domain":["down","up"],"range":["M0,0L-0.7,-2L0.7,-2Z","M0,0L-0.7,2L0.7,2Z"]},"legend":null}}},
{"data":{"name":"textA"},"mark":{"type":"text","fontSize":20,"color":"black"},"encoding":{"text":{"field":"t"}}}
]
},
{
"width":505,"height":283,
"title":{"text":"(b)"},
"encoding":{
"x":{"field":"x","type":"quantitative","scale":{"domain":[1549.5,1551.5],"nice":false,"zero":false},
"axis":{"title":"Wavelength (nm)","titlePadding":10,"values":[1549.5,1549.75,1550,1550.25,1550.5,1550.75,1551,1551.25,1551.5],"labelExpr":"datum.value % 0.5 == 0 ? format(datum.value, '.1f') : ''"}},
"y":{"field":"y","type":"quantitative","scale":{"domain":[-80,-10],"nice":false,"zero":false},
"axis":{"title":"Power (dBm)","titlePadding":17,"values":[-80,-70,-60,-50,-40,-30,-20],"labelExpr":"datum.value % 20 == 0 ? toString(datum.value) : ''"}}
},
"layer":[
{"data":{"name":"specB"},"mark":{"type":"line","strokeWidth":2,"clip":true},
"encoding":{"color":{"field":"c","type":"nominal","scale":{"domain":["Channel 1","Channel 2","Channel 3","Channel 4","Channel 5"],"range":["#00ff00","#ff0000","#0000ff","#008080","#ff00ff"]},
"legend":{"title":null,"orient":"none","legendX":371,"legendY":445,"symbolType":"M-3,0H3","symbolSize":196,"symbolStrokeWidth":3,"labelFontSize":15,"labelColor":"black","labelOffset":26,"rowPadding":0,"padding":0}}}},
{"data":{"name":"dashB"},"mark":{"type":"rule","color":"black","strokeWidth":2.5,"strokeDash":[10,5]},"encoding":{"x2":{"field":"x2"}}},
{"data":{"name":"shaftB"},"mark":{"type":"rule","color":"black","strokeWidth":2},"encoding":{"y2":{"field":"y2"}}},
{"data":{"name":"headB"},"mark":{"type":"point","filled":true,"color":"black","opacity":1,"size":64},"encoding":{"shape":{"field":"d","type":"nominal","scale":{"domain":["down","up"],"range":["M0,0L-0.7,-2L0.7,-2Z","M0,0L-0.7,2L0.7,2Z"]},"legend":null}}},
{"data":{"name":"textB"},"mark":{"type":"text","fontSize":20,"color":"black"},"encoding":{"text":{"field":"t"}}}
]
}
]
}
